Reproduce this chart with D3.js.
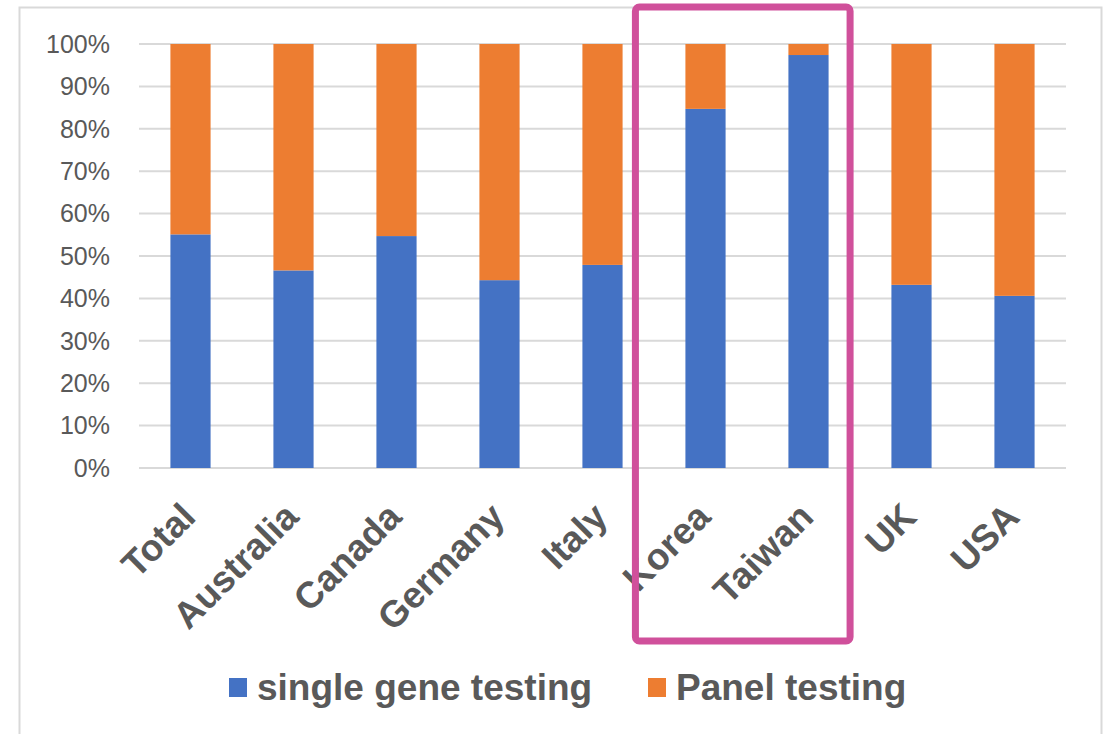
<!DOCTYPE html>
<html>
<head>
<meta charset="utf-8">
<script src="https://cdn.jsdelivr.net/npm/d3@7"></script>
<style>
  body { margin: 0; background: #fff; }
  svg { display: block; font-family: "Liberation Sans", Arial, sans-serif; }
</style>
</head>
<body>
<svg width="1109" height="734"></svg>
<script>
const categories = ["Total", "Australia", "Canada", "Germany", "Italy", "Korea", "Taiwan", "UK", "USA"];
const singleGene = [55.1, 46.6, 54.7, 44.3, 47.9, 84.7, 97.4, 43.2, 40.6];
const panel = [44.9, 53.4, 45.3, 55.7, 52.1, 15.3, 2.6, 56.8, 59.4];
const seriesNames = ["single gene testing", "Panel testing"];
const yTicks = [0, 10, 20, 30, 40, 50, 60, 70, 80, 90, 100];
const highlighted = ["Korea", "Taiwan"];

const svg = d3.select("svg");
const colors = ["#4472c4", "#ed7d31"];
const textColor = "#595959";

// outer chart frame
svg.append("rect")
  .attr("x", 19.5).attr("y", 7.5)
  .attr("width", 1082).attr("height", 740)
  .attr("fill", "none").attr("stroke", "#d9d9d9").attr("stroke-width", 2);

const x = d3.scaleBand().domain(categories).range([139, 1066]).paddingInner(0.61).paddingOuter(0.305);
const y = d3.scaleLinear().domain([0, 100]).range([468, 44]);

// gridlines
svg.append("g")
  .selectAll("line")
  .data(yTicks)
  .join("line")
  .attr("x1", 139).attr("x2", 1066)
  .attr("y1", d => y(d)).attr("y2", d => y(d))
  .attr("stroke", "#d9d9d9").attr("stroke-width", 2);

// y axis labels
svg.append("g")
  .selectAll("text")
  .data(yTicks)
  .join("text")
  .attr("x", 110)
  .attr("y", d => y(d))
  .attr("dy", "0.35em")
  .attr("text-anchor", "end")
  .attr("fill", textColor)
  .attr("font-size", 25)
  .text(d => d + "%");

const rows = categories.map((c, i) => ({ cat: c, single: singleGene[i], panel: panel[i] }));
const stack = d3.stack().keys(["single", "panel"])(rows);

svg.append("g")
  .selectAll("g")
  .data(stack)
  .join("g")
  .attr("fill", (d, i) => colors[i])
  .selectAll("rect")
  .data(d => d)
  .join("rect")
  .attr("x", d => x(d.data.cat))
  .attr("width", x.bandwidth())
  .attr("y", d => y(d[1]))
  .attr("height", d => y(d[0]) - y(d[1]));

// category labels
svg.append("g")
  .selectAll("text")
  .data(categories)
  .join("text")
  .attr("transform", d => `translate(${x(d) + x.bandwidth() / 2 + 7},${519}) rotate(-45)`)
  .attr("text-anchor", "end")
  .attr("fill", textColor)
  .attr("font-size", 37)
  .attr("font-weight", "bold")
  .text(d => d);

// legend
const legendX = [229, 648];
const legend = svg.append("g")
  .selectAll("g")
  .data(seriesNames)
  .join("g")
  .attr("transform", (d, i) => `translate(${legendX[i]},678)`);
legend.append("rect")
  .attr("width", 18).attr("height", 19)
  .attr("fill", (d, i) => colors[i]);
legend.append("text")
  .attr("x", 28).attr("y", 22)
  .attr("fill", textColor)
  .attr("font-size", 37)
  .attr("font-weight", "bold")
  .text(d => d);

// highlight box around Korea and Taiwan
const hx0 = x(highlighted[0]) - 50;
const hx1 = x(highlighted[1]) + x.bandwidth() + 21.5;
svg.append("rect")
  .attr("x", hx0).attr("y", 7)
  .attr("width", hx1 - hx0).attr("height", 634)
  .attr("rx", 4)
  .attr("fill", "none")
  .attr("stroke", "#d0509b")
  .attr("stroke-width", 7);
</script>
</body>
</html>
